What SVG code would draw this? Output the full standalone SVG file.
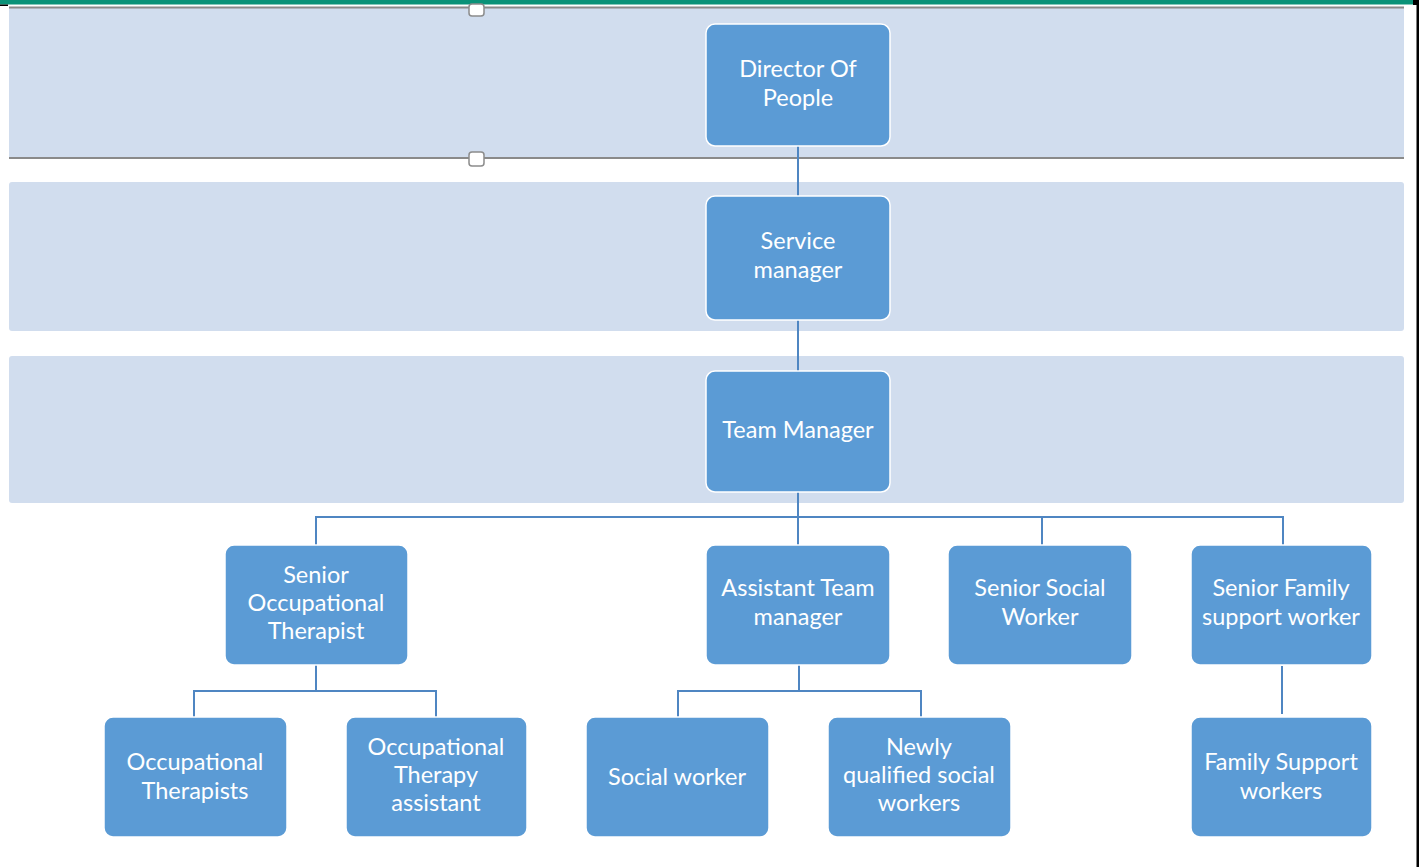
<svg xmlns="http://www.w3.org/2000/svg" width="1419" height="867" viewBox="0 0 1419 867">
<style>
.band{fill:#d1ddee}
.node rect{fill:#5b9bd5;stroke:#ffffff;stroke-width:1.5}
.node text{fill:#ffffff;font-family:Lato,"Open Sans","Liberation Sans",sans-serif;font-size:23.5px;text-anchor:middle}
.conn{stroke:#4f86c2;stroke-width:2;fill:none}
.handle{fill:#ffffff;stroke:#8c8c8c;stroke-width:1.5}
</style>
<rect x="0" y="0" width="1419" height="867" fill="#ffffff"/>
<rect x="0" y="0" width="1414" height="4.5" fill="#0a9278"/>
<rect x="0" y="4.5" width="8" height="1.5" fill="#000"/>
<rect x="1413" y="0" width="6" height="5" fill="#000"/>
<rect x="1416.5" y="0" width="2.5" height="867" fill="#000"/>
<g id="bands">
<rect class="band" x="9" y="8" width="1395" height="150"/>
<line x1="9" y1="7.5" x2="1404" y2="7.5" stroke="#8a8a8a" stroke-width="2"/>
<line x1="9" y1="158" x2="1404" y2="158" stroke="#8a8a8a" stroke-width="2"/>
<rect class="band" x="9" y="182" width="1395" height="149" rx="3"/>
<rect class="band" x="9" y="356" width="1395" height="147" rx="3"/>
</g>
<g id="connectors">
<line class="conn" x1="798" y1="146" x2="798" y2="196"/>
<line class="conn" x1="798" y1="320" x2="798" y2="371"/>
<line class="conn" x1="798" y1="492" x2="798" y2="545"/>
<polyline class="conn" points="316,545 316,517 1283,517 1283,545"/>
<line class="conn" x1="1042" y1="517" x2="1042" y2="545"/>
<line class="conn" x1="316" y1="665" x2="316" y2="691"/>
<polyline class="conn" points="194,717 194,691 436,691 436,717"/>
<line class="conn" x1="799" y1="665" x2="799" y2="691"/>
<polyline class="conn" points="678,717 678,691 921,691 921,717"/>
<line class="conn" x1="1282" y1="666" x2="1282" y2="714" stroke="#86acd8"/>
</g>
<g id="handles">
<rect class="handle" x="469" y="4" width="15" height="12" rx="3"/>
<rect class="handle" x="469" y="152" width="15" height="14" rx="3"/>
</g>
<g id="director" class="node"><rect x="706" y="24" width="184" height="122" rx="9"/><text x="798" y="77">Director Of</text><text x="798" y="106">People</text></g>
<g id="service" class="node"><rect x="706" y="196" width="184" height="124" rx="9"/><text x="798" y="249">Service</text><text x="798" y="278">manager</text></g>
<g id="team" class="node"><rect x="706" y="371" width="184" height="121" rx="9"/><text x="798" y="438">Team Manager</text></g>
<g id="senior-ot" class="node"><rect x="225" y="545" width="183" height="120" rx="9"/><text x="316" y="583">Senior</text><text x="316" y="611">Occupational</text><text x="316" y="639">Therapist</text></g>
<g id="assistant" class="node"><rect x="706" y="545" width="184" height="120" rx="9"/><text x="798" y="596">Assistant Team</text><text x="798" y="625">manager</text></g>
<g id="senior-sw" class="node"><rect x="948" y="545" width="184" height="120" rx="9"/><text x="1040" y="596">Senior Social</text><text x="1040" y="625">Worker</text></g>
<g id="senior-fsw" class="node"><rect x="1191" y="545" width="181" height="120" rx="9"/><text x="1281" y="596">Senior Family</text><text x="1281" y="625">support worker</text></g>
<g id="ot" class="node"><rect x="104" y="717" width="183" height="120" rx="9"/><text x="195" y="770">Occupational</text><text x="195" y="799">Therapists</text></g>
<g id="ota" class="node"><rect x="346" y="717" width="181" height="120" rx="9"/><text x="436" y="755">Occupational</text><text x="436" y="783">Therapy</text><text x="436" y="811">assistant</text></g>
<g id="sw" class="node"><rect x="586" y="717" width="183" height="120" rx="9"/><text x="677" y="785">Social worker</text></g>
<g id="nqsw" class="node"><rect x="828" y="717" width="183" height="120" rx="9"/><text x="919" y="755">Newly</text><text x="919" y="783">qualified social</text><text x="919" y="811">workers</text></g>
<g id="fsw" class="node"><rect x="1191" y="717" width="181" height="120" rx="9"/><text x="1281" y="770">Family Support</text><text x="1281" y="799">workers</text></g>
</svg>
